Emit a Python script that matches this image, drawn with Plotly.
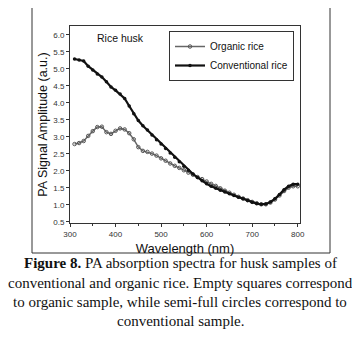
import plotly.graph_objects as go

wavelength = [310, 320, 330, 340, 350, 360, 370, 380, 390, 400, 410, 420, 430, 440, 450,
              460, 470, 480, 490, 500, 510, 520, 530, 540, 550, 560, 570, 580, 590, 600,
              610, 620, 630, 640, 650, 660, 670, 680, 690, 700, 710, 720, 730, 740, 750,
              760, 770, 780, 790, 800]

conventional = [5.29, 5.26, 5.23, 5.08, 4.97, 4.85, 4.76, 4.62, 4.47, 4.37, 4.26, 4.13, 3.91,
                3.68, 3.48, 3.33, 3.20, 3.06, 2.92, 2.79, 2.66, 2.53, 2.40, 2.27, 2.14, 2.02,
                1.91, 1.81, 1.71, 1.62, 1.55, 1.49, 1.43, 1.38, 1.33, 1.28, 1.23, 1.18, 1.13,
                1.08, 1.04, 1.02, 1.03, 1.09, 1.18, 1.31, 1.45, 1.55, 1.61, 1.61]

organic = [2.79, 2.82, 2.88, 3.03, 3.17, 3.29, 3.30, 3.14, 3.09, 3.18, 3.25, 3.22, 3.11,
           2.93, 2.70, 2.59, 2.56, 2.51, 2.45, 2.37, 2.30, 2.22, 2.15, 2.09, 2.02, 1.95,
           1.89, 1.82, 1.76, 1.69, 1.62, 1.56, 1.49, 1.42, 1.36, 1.30, 1.24, 1.19, 1.14,
           1.09, 1.05, 1.02, 1.02, 1.07, 1.16, 1.28, 1.41, 1.51, 1.55, 1.55]

x_ticks = [300, 400, 500, 600, 700, 800]
y_ticks = [0.5, 1.0, 1.5, 2.0, 2.5, 3.0, 3.5, 4.0, 4.5, 5.0, 5.5, 6.0]

caption_lines = [
    "<b>Figure 8.</b> PA absorption spectra for husk samples of",
    "conventional and organic rice. Empty squares correspond",
    "to organic sample, while semi-full circles correspond to",
    "conventional sample.",
]

OFF = 8  # default page body margin
W, H = 360 - OFF, 337 - OFF
PLOT_L, PLOT_R, PLOT_T, PLOT_B = 70 - OFF, 300 - OFF, 26 - OFF, 223 - OFF
PW, PH = PLOT_R - PLOT_L, PLOT_B - PLOT_T


def px(xpage):
    return (xpage - OFF - PLOT_L) / PW


def py(ypage):
    return (PLOT_B - (ypage - OFF)) / PH


fig = go.Figure()
fig.add_trace(go.Scatter(
    x=wavelength, y=organic, name="Organic rice", mode="lines+markers",
    line=dict(color="#666666", width=1.5),
    marker=dict(symbol="circle-open", size=3.5, color="#555555", line=dict(width=1)),
))
fig.add_trace(go.Scatter(
    x=wavelength, y=conventional, name="Conventional rice", mode="lines+markers",
    line=dict(color="#111111", width=2.2),
    marker=dict(symbol="circle", size=3.5, color="#111111"),
))

axis_common = dict(
    showline=True, linecolor="#333333", linewidth=1, mirror=True,
    ticks="outside", ticklen=3, tickcolor="#333333",
    showgrid=False, zeroline=False,
    tickfont=dict(family="Liberation Sans, Arial", size=8, color="#333333"),
    minor=dict(ticks="outside", ticklen=2, tickcolor="#333333"),
)

fig.update_xaxes(
    range=[300, 805], tickvals=x_ticks, ticktext=[str(v) for v in x_ticks],
    title=dict(text="Wavelength (nm)", standoff=6,
               font=dict(family="Liberation Sans, Arial", size=13, color="#111111")),
    **axis_common,
)
fig.update_yaxes(
    range=[0.47, 6.26], tickvals=y_ticks, ticktext=[f"{v:.1f}" for v in y_ticks],
    title=dict(text="PA Signal Amplitude (a.u.)", standoff=2,
               font=dict(family="Liberation Sans, Arial", size=12.5, color="#111111")),
    **axis_common,
)

annotations = [
    dict(text="Rice husk", x=px(95), y=py(38), xref="paper", yref="paper",
         xanchor="left", yanchor="middle", showarrow=False,
         font=dict(family="Liberation Sans, Arial", size=10.5, color="#111111")),
]
caption_y = [263, 283, 302, 321]
for line, ypix in zip(caption_lines, caption_y):
    annotations.append(dict(
        text=line, x=px(180), y=py(ypix), xref="paper", yref="paper",
        xanchor="center", yanchor="middle", showarrow=False,
        font=dict(family="Liberation Serif, Times New Roman", size=15, color="#111111"),
    ))

fig.update_layout(
    width=W, height=H,
    margin=dict(l=PLOT_L, r=W - PLOT_R, t=PLOT_T, b=H - PLOT_B),
    paper_bgcolor="white", plot_bgcolor="white",
    showlegend=True,
    legend=dict(x=px(294), y=py(31), xanchor="right", yanchor="top",
                bgcolor="white", bordercolor="#333333", borderwidth=1,
                font=dict(family="Liberation Sans, Arial", size=10, color="#111111"),
                itemwidth=30, tracegroupgap=0),
    annotations=annotations,
    shapes=[dict(type="rect", xref="paper", yref="paper",
                 x0=px(32), x1=px(330), y0=py(253), y1=py(-2),
                 line=dict(color="#333333", width=1))],
)

fig.write_html("out.html")
